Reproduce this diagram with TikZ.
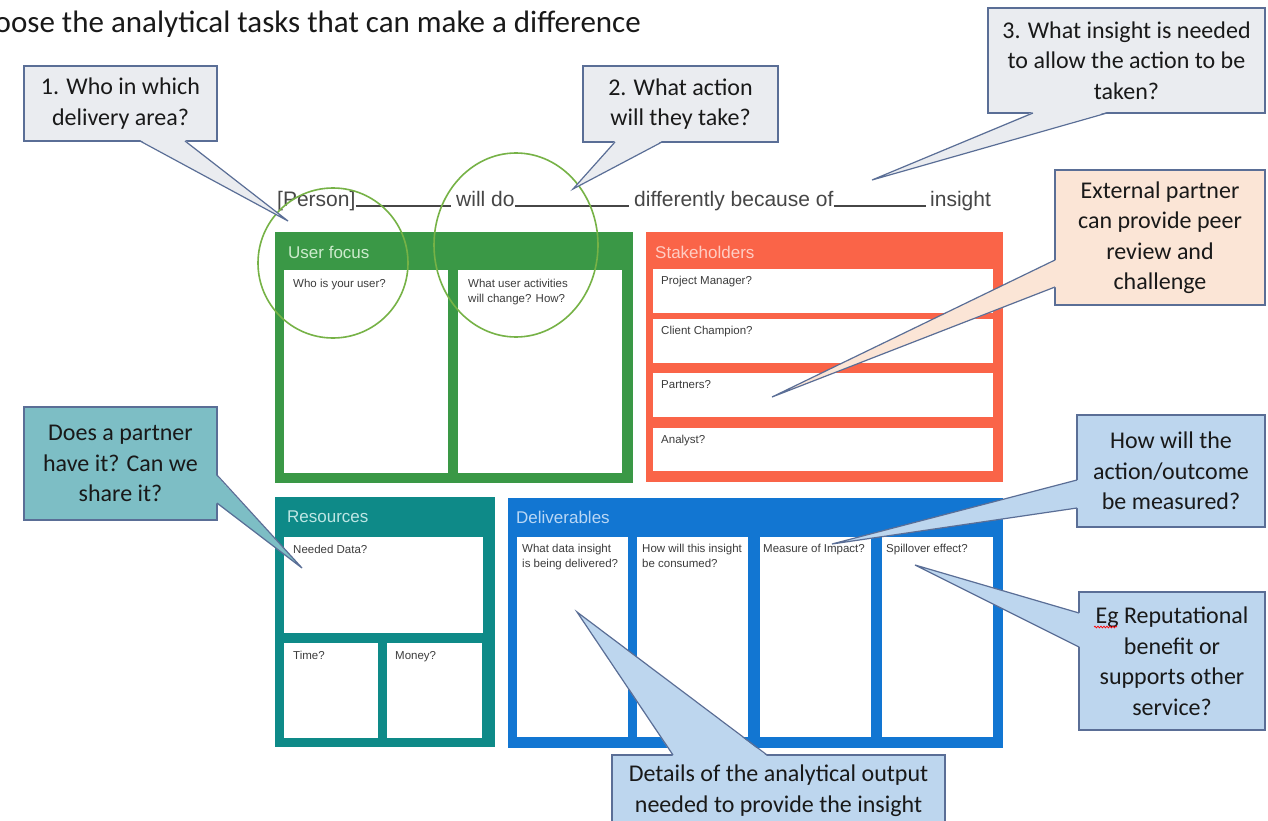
\documentclass[tikz,border=0pt]{standalone}
\usepackage{fontspec}
\setmainfont{Carlito}
\newfontfamily\canvasfont{Liberation Sans}
\usetikzlibrary{decorations.pathmorphing}

\definecolor{userGreen}{RGB}{58,152,70}
\definecolor{userTint}{RGB}{205,235,205}
\definecolor{stakeRed}{RGB}{250,100,72}
\definecolor{stakeTint}{RGB}{255,205,195}
\definecolor{resTeal}{RGB}{14,138,136}
\definecolor{resTint}{RGB}{190,230,228}
\definecolor{delivBlue}{RGB}{18,118,210}
\definecolor{delivTint}{RGB}{185,215,245}
\definecolor{ringGreen}{RGB}{118,178,70}
\definecolor{cellInk}{RGB}{60,60,60}
\definecolor{lineInk}{RGB}{70,70,70}
\definecolor{callEdge}{RGB}{90,110,150}
\definecolor{callGray}{RGB}{234,236,240}
\definecolor{callPeach}{RGB}{251,229,214}
\definecolor{callTeal}{RGB}{125,190,197}
\definecolor{callBlue}{RGB}{189,214,238}
\definecolor{calloutInk}{RGB}{25,25,25}

\begin{document}
\begin{tikzpicture}[x=1pt, y=-1pt,
    panel/.style={anchor=north west, inner sep=0, outer sep=0},
    cell/.style={anchor=north west, inner sep=0, outer sep=0, fill=white},
    cellnote/.style={anchor=north west, inner sep=0, align=left, text=cellInk,
        font=\canvasfont\fontsize{11.5}{14.5}\selectfont},
    paneltitle/.style={anchor=west, inner sep=0, font=\canvasfont\fontsize{17}{20}\selectfont},
    sentence/.style={anchor=base west, inner sep=0, text=lineInk,
        font=\canvasfont\fontsize{21}{24}\selectfont},
    blank/.style={draw=lineInk, line width=1.1pt},
    ring/.style={draw=ringGreen, line width=1.6pt},
    callout/.style={draw=callEdge, line width=1.2pt, inner sep=0, outer sep=0, align=center,
        text=calloutInk, font=\fontsize{24}{30.5}\selectfont},
    pointer/.style={draw=callEdge, line width=1.2pt},
]
\useasboundingbox (0,0) rectangle (1268,821);
\clip (0,0) rectangle (1268,821);
\fill[white] (0,0) rectangle (1268,821);

% heading, cut at the left edge
\node[anchor=base east, inner sep=0, text=calloutInk, font=\fontsize{31}{36}\selectfont] (title)
    at (641,33) {Choose the analytical tasks that can make a difference};

% the sentence
\node[sentence] (person) at (277,206) {[Person]};
\node[sentence] (willdo) at (456,206) {will do};
\node[sentence] (because) at (634,206) {differently because of};
\node[sentence] (insight) at (930,206) {insight};
\draw[blank] (person.base east) -- ([xshift=-5pt]willdo.base west);
\draw[blank] (willdo.base east) -- ([xshift=-5pt]because.base west);
\draw[blank] (because.base east) -- ([xshift=-4pt]insight.base west);

% user focus
\node[panel, fill=userGreen, minimum width=358pt, minimum height=251pt] (user) at (275,232) {};
\node[paneltitle, text=userTint] (usertitle) at (288,252) {User focus};
\node[cell, minimum width=164pt, minimum height=203pt] (userA) at (284,270) {};
\node[cell, minimum width=164pt, minimum height=203pt] (userB) at (458,270) {};
\node[cellnote] at ([xshift=9pt,yshift=-9pt]userA.north west) {Who is your user?};
\node[cellnote] at ([xshift=10pt,yshift=-9pt]userB.north west) {What user activities\\will change? How?};

% stakeholders
\node[panel, fill=stakeRed, minimum width=357pt, minimum height=250pt] (stake) at (646,232) {};
\node[paneltitle, text=stakeTint] (staketitle) at (655,252) {Stakeholders};
\node[cell, minimum width=340pt, minimum height=44pt] (stakeA) at (653,269) {};
\node[cell, minimum width=340pt, minimum height=44pt] (stakeB) at (653,319) {};
\node[cell, minimum width=340pt, minimum height=44pt] (stakeC) at (653,373) {};
\node[cell, minimum width=340pt, minimum height=43pt] (stakeD) at (653,428) {};
\node[cellnote] at ([xshift=8pt,yshift=-7pt]stakeA.north west) {Project Manager?};
\node[cellnote] at ([xshift=8pt,yshift=-7pt]stakeB.north west) {Client Champion?};
\node[cellnote] at ([xshift=8pt,yshift=-7pt]stakeC.north west) {Partners?};
\node[cellnote] at ([xshift=8pt,yshift=-7pt]stakeD.north west) {Analyst?};

% resources
\node[panel, fill=resTeal, minimum width=220pt, minimum height=250pt] (res) at (275,497) {};
\node[paneltitle, text=resTint] (restitle) at (287,517) {Resources};
\node[cell, minimum width=199pt, minimum height=96pt] (resA) at (284,537) {};
\node[cell, minimum width=94pt, minimum height=95pt] (resB) at (284,643) {};
\node[cell, minimum width=95pt, minimum height=95pt] (resC) at (387,643) {};
\node[cellnote] at ([xshift=9pt,yshift=-8pt]resA.north west) {Needed Data?};
\node[cellnote] at ([xshift=9pt,yshift=-8pt]resB.north west) {Time?};
\node[cellnote] at ([xshift=8pt,yshift=-8pt]resC.north west) {Money?};

% deliverables
\node[panel, fill=delivBlue, minimum width=495pt, minimum height=250pt] (deliv) at (508,498) {};
\node[paneltitle, text=delivTint] (delivtitle) at (516,517) {Deliverables};
\node[cell, minimum width=111pt, minimum height=200pt] (delivA) at (517,537) {};
\node[cell, minimum width=111pt, minimum height=200pt] (delivB) at (637,537) {};
\node[cell, minimum width=111pt, minimum height=200pt] (delivC) at (760,537) {};
\node[cell, minimum width=111pt, minimum height=200pt] (delivD) at (882,537) {};
\node[cellnote] at ([xshift=5pt,yshift=-7pt]delivA.north west) {What data insight\\is being delivered?};
\node[cellnote] at ([xshift=5pt,yshift=-7pt]delivB.north west) {How will this insight\\be consumed?};
\node[cellnote] at ([xshift=3pt,yshift=-7pt]delivC.north west) {Measure of Impact?};
\node[cellnote] at ([xshift=4pt,yshift=-7pt]delivD.north west) {Spillover effect?};

% hand drawn rings
\draw[ring] (333,263) ellipse [x radius=75pt, y radius=75pt];
\draw[ring] (516,245) ellipse [x radius=82pt, y radius=92pt];

% callouts
\node[callout, fill=callGray, minimum width=193pt, minimum height=75pt] (who) at (120.5,103.5)
    {1. Who in which\\delivery area?};
\coordinate (whotip) at (288,221);
\fill[callGray] ([xshift=116pt,yshift=1pt]who.south west) -- (whotip) -- ([xshift=161pt,yshift=1pt]who.south west) -- cycle;
\draw[pointer] ([xshift=116pt]who.south west) -- (whotip) -- ([xshift=161pt]who.south west);

\node[callout, fill=callGray, minimum width=195pt, minimum height=76pt] (action) at (680.5,104)
    {2. What action\\will they take?};
\coordinate (actiontip) at (573,189);
\fill[callGray] ([xshift=32pt,yshift=1pt]action.south west) -- (actiontip) -- ([xshift=79pt,yshift=1pt]action.south west) -- cycle;
\draw[pointer] ([xshift=32pt]action.south west) -- (actiontip) -- ([xshift=79pt]action.south west);

\node[callout, fill=callGray, minimum width=277pt, minimum height=105pt] (needed) at (1126.5,60.5)
    {3. What insight is needed\\to allow the action to be\\taken?};
\coordinate (neededtip) at (872,180);
\fill[callGray] ([xshift=45pt,yshift=1pt]needed.south west) -- (neededtip) -- ([xshift=119pt,yshift=1pt]needed.south west) -- cycle;
\draw[pointer] ([xshift=45pt]needed.south west) -- (neededtip) -- ([xshift=119pt]needed.south west);

\node[callout, fill=callPeach, minimum width=210pt, minimum height=135pt] (peer) at (1160,237.5)
    {External partner\\can provide peer\\review and\\challenge};
\coordinate (peertip) at (772,397);
\fill[callPeach] ([xshift=1pt,yshift=-90pt]peer.north west) -- (peertip) -- ([xshift=1pt,yshift=-117pt]peer.north west) -- cycle;
\draw[pointer] ([yshift=-90pt]peer.north west) -- (peertip) -- ([yshift=-117pt]peer.north west);

\node[callout, fill=callTeal, minimum width=193pt, minimum height=113pt] (share) at (120.5,463.5)
    {Does a partner\\have it? Can we\\share it?};
\coordinate (sharetip) at (302,568);
\fill[callTeal] ([xshift=-1pt,yshift=-68pt]share.north east) -- (sharetip) -- ([xshift=-1pt,yshift=-96pt]share.north east) -- cycle;
\draw[pointer] ([yshift=-68pt]share.north east) -- (sharetip) -- ([yshift=-96pt]share.north east);

\node[callout, fill=callBlue, minimum width=188pt, minimum height=112pt] (measure) at (1171,471)
    {How will the\\action/outcome\\be measured?};
\coordinate (measuretip) at (832,544);
\fill[callBlue] ([xshift=1pt,yshift=-65pt]measure.north west) -- (measuretip) -- ([xshift=1pt,yshift=-93pt]measure.north west) -- cycle;
\draw[pointer] ([yshift=-65pt]measure.north west) -- (measuretip) -- ([yshift=-93pt]measure.north west);

\node[callout, fill=callBlue, minimum width=186pt, minimum height=138pt] (spill) at (1172,661)
    {Eg Reputational\\benefit or\\supports other\\service?};
\coordinate (spilltip) at (915,565);
\fill[callBlue] ([xshift=1pt,yshift=-21pt]spill.north west) -- (spilltip) -- ([xshift=1pt,yshift=-55pt]spill.north west) -- cycle;
\draw[pointer] ([yshift=-21pt]spill.north west) -- (spilltip) -- ([yshift=-55pt]spill.north west);
\draw[red, line width=0.7pt, decorate, decoration={snake, amplitude=0.9pt, segment length=3pt}]
    ([xshift=15pt,yshift=-35pt]spill.north west) -- ++(23pt,0);

\node[callout, fill=callBlue, minimum width=333pt, minimum height=71pt] (detail) at (778.5,790.5)
    {Details of the analytical output\\needed to provide the insight};
\coordinate (detailtip) at (577,612);
\fill[callBlue] ([xshift=61pt,yshift=-1pt]detail.north west) -- (detailtip) -- ([xshift=155pt,yshift=-1pt]detail.north west) -- cycle;
\draw[pointer] ([xshift=61pt]detail.north west) -- (detailtip) -- ([xshift=155pt]detail.north west);
\end{tikzpicture}
\end{document}
